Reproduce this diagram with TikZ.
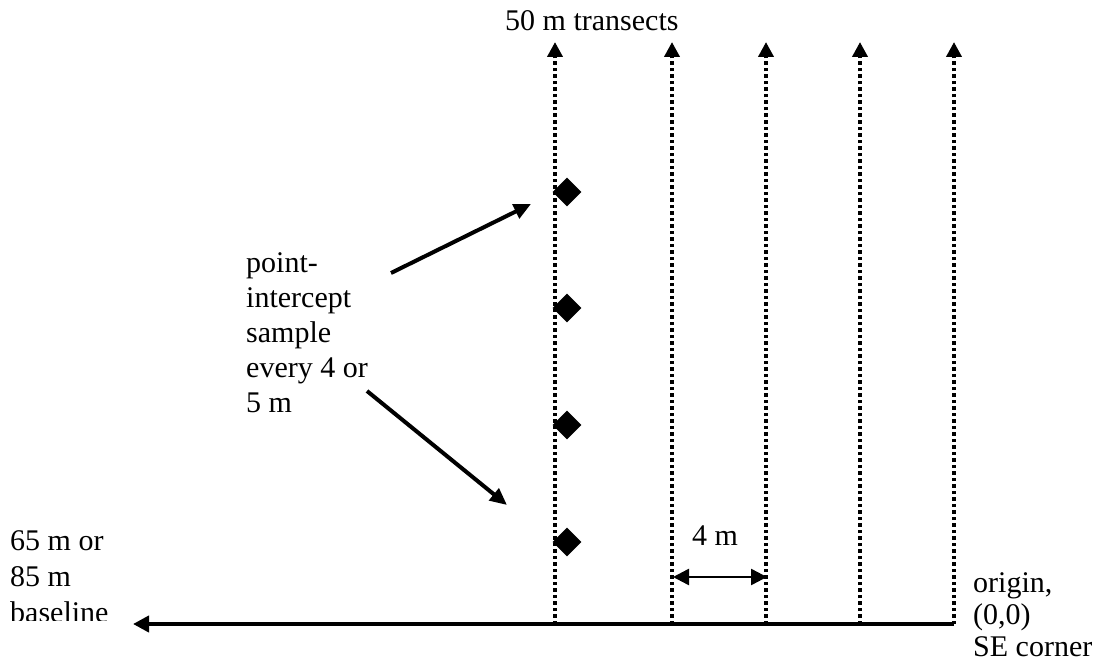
\documentclass[tikz,border=0pt]{standalone}
\usepackage{fontspec}
\setmainfont{Liberation Serif}
\usetikzlibrary{arrows.meta,shapes.geometric}
\begin{document}
\begin{tikzpicture}[x=1pt,y=-1pt,
  transect/.style={line width=4pt, dash pattern=on 3.5pt off 3pt, -{Triangle[length=15pt,width=15pt]}},
  baseln/.style={line width=4pt, -{Triangle[length=16pt,width=16pt]}},
  pointer/.style={line width=4pt, -{Triangle[length=17pt,width=15pt]}},
  spacing/.style={line width=2.5pt, {Triangle[length=16pt,width=16pt]}-{Triangle[length=16pt,width=16pt]}},
  marker/.style={diamond, fill=black, inner sep=0pt, minimum size=29pt},
  lbl/.style={font=\fontsize{30}{35}\selectfont, inner sep=0pt, align=left, anchor=base west}]
\useasboundingbox (0,0) rectangle (1104,669);
% transects
\foreach \i/\x in {1/555,2/672,3/766,4/860,5/954}{
  \coordinate (t\i b) at (\x,624);
  \coordinate (t\i t) at (\x,42);
}
\foreach \i in {1,...,5}{
  \draw[transect] (t\i b) -- (t\i t);
}
% baseline
\coordinate (bl) at (133,624);
\draw[baseln] (t5b) -- (bl);
% sample points
\node[marker] (d1) at (567,192) {};
\node[marker] (d2) at (567,308) {};
\node[marker] (d3) at (567,425) {};
\node[marker] (d4) at (567,542) {};
% labels
\node[lbl] (title) at (505,31) {50 m transects};
\node[lbl] (pil) at (246,412) {point-\\intercept\\sample\\every 4 or\\5 m};
\node[lbl] (fourm) at (692,545) {4 m};
\begin{scope}
  \clip (0,0) rectangle (130,620);
  \node[lbl, font=\fontsize{30}{36}\selectfont] (basel) at (10,622) {65 m or\\85 m\\baseline};
\end{scope}
\node[lbl, font=\fontsize{30}{32}\selectfont] (origin) at (973,656) {origin,\\(0,0)\\SE corner};
% pointers
\coordinate (p1s) at (391,273);
\coordinate (p1e) at (531,204);
\coordinate (p2s) at (367,391);
\coordinate (p2e) at (507,505);
\draw[pointer] (p1s) -- (p1e);
\draw[pointer] (p2s) -- (p2e);
% 4 m spacing
\coordinate (m1) at (673,577);
\coordinate (m2) at (767,577);
\draw[spacing] (m1) -- (m2);
\end{tikzpicture}
\end{document}
